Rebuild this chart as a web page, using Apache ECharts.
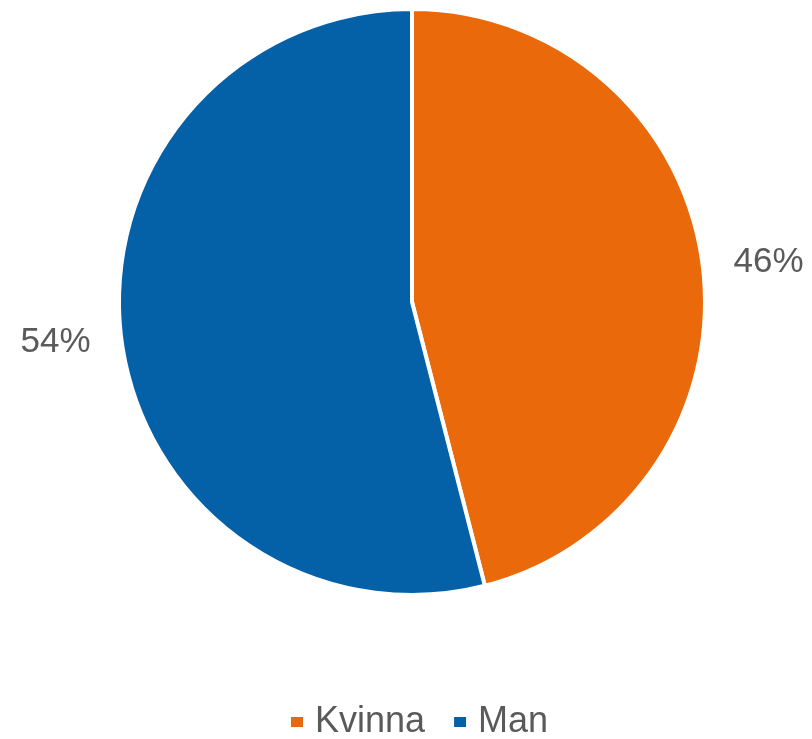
<!DOCTYPE html>
<html>
<head>
<meta charset="utf-8">
<script src="https://cdn.jsdelivr.net/npm/echarts@6/dist/echarts.min.js"></script>
<style>
html,body{margin:0;padding:0;background:#fff;}
#chart{width:812px;height:739px;}
</style>
</head>
<body>
<div id="chart"></div>
<script>
const categories = ['Kvinna', 'Man'];
const values = [46, 54];
const colors = ['#e9690b', '#0561a7'];

const chart = echarts.init(document.getElementById('chart'), null, {renderer: 'canvas'});
chart.setOption({
  animation: false,
  color: colors,
  textStyle: {fontFamily: '"Liberation Sans", Arial, sans-serif'},
  legend: {
    data: categories,
    top: 704,
    left: 289,
    padding: 0,
    icon: 'rect',
    itemWidth: 14,
    itemHeight: 12,
    itemGap: 27,
    textStyle: {fontSize: 36, lineHeight: 36, color: '#5a5a5a', fontFamily: '"Liberation Sans", Arial, sans-serif', padding: [0, 0, 0, 6]}
  },
  series: [{
    type: 'pie',
    center: [412, 302],
    radius: [0, 293],
    startAngle: 90,
    clockwise: true,
    data: categories.map((c, i) => ({name: c, value: values[i]})),
    itemStyle: {borderColor: '#fff', borderWidth: 4},
    label: {
      show: true,
      position: 'outside',
      formatter: '{d}%',
      fontSize: 35,
      color: '#5a5a5a',
      overflow: 'none',
      width: 120,
      padding: [6, 0, 0, 0],
      fontFamily: '"Liberation Sans", Arial, sans-serif',
      distanceToLabelLine: 4
    },
    labelLine: {show: false, length: 27, length2: 0},
    emphasis: {disabled: true}
  }]
});
</script>
</body>
</html>
